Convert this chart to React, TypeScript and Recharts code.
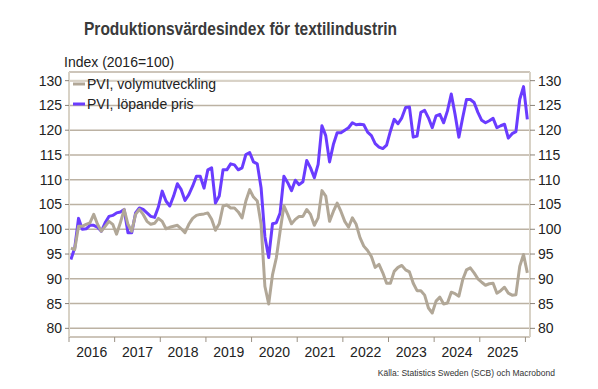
import React from "react";
import { LineChart, Line, XAxis, YAxis, CartesianGrid, ReferenceLine } from "recharts";

const yearLabels = ["2016", "2017", "2018", "2019", "2020", "2021", "2022", "2023", "2024", "2025", ""];
const yearTicks = [0, 12, 24, 36, 48, 60, 72, 84, 96, 108, 120];
const yTicks = [80, 85, 90, 95, 100, 105, 110, 115, 120, 125, 130];

// PVI, volymutveckling (monthly, Jan 2016 ->)
const volume = [
  96.2, 95.9, 100.6, 100.6, 101, 101.3, 103, 101, 99.6, 100.6,
  101.6, 101, 99, 101.3, 104, 101, 99.6, 103, 104, 103,
  101.6, 101, 101.2, 102.2, 101.6, 100.1, 100.4, 100.6, 100.8, 100.1,
  99.3, 101, 102.2, 102.8, 103, 103.1, 103.3, 102, 99.8, 101.1,
  104.7, 104.9, 104.3, 104.3, 103.5, 102.3, 105.7, 108, 106.5, 105.7,
  101, 88.5, 84.9, 90.8, 94.2, 99.6, 104.7, 103, 101.1, 102,
  102.6, 102.6, 104, 103, 100.8, 102.3, 107.8, 106.7, 101.6, 103.6,
  105.3, 103.6, 101.6, 100.4, 102.3, 101, 98.3, 96.6, 95.7, 94.5,
  92.3, 92.9, 91.2, 89.1, 89.1, 91.5, 92.3, 92.7, 91.8, 91.4,
  89.1, 87.6, 87.6, 86.7, 84.1, 83.1, 85.5, 86.3, 84.9, 85.1,
  87.3, 87, 86.5, 89.8, 91.8, 92.2, 91.2, 90, 89.3, 88.7,
  89, 89.1, 87.1, 87.6, 88.3, 87.1, 86.7, 86.8, 92.5, 94.9,
  91.2,
];

// PVI, löpande pris
const price = [
  93.9, 96.2, 102.2, 100, 100.1, 100.8, 100.8, 100.4, 99.6, 101.3,
  102.6, 102.8, 103.3, 103.5, 104, 99.3, 99.3, 103.3, 104.3, 104,
  103.3, 102.6, 102.4, 104.5, 107.7, 105.7, 104.7, 106.7, 109.2, 108,
  105.8, 107, 108.7, 110.7, 110.7, 108.3, 112, 112.4, 105.3, 106.7,
  112, 112, 113.2, 113, 112, 112.4, 115.1, 115.5, 113.6, 113.2,
  108.4, 98.5, 94.3, 101.1, 101.3, 103.3, 110.7, 109.4, 107.8, 109.9,
  109, 109.6, 113.9, 112.4, 110.4, 113.1, 120.9, 118.9, 113.6, 117.1,
  119.5, 119.5, 120, 120.5, 121.5, 121.1, 121.2, 121.1, 119.6, 118.9,
  117.3, 116.6, 116.3, 117, 119.8, 122.2, 121.3, 122.5, 124.6, 124.7,
  118.6, 118.8, 123.6, 124, 122.5, 120.5, 122.9, 123.2, 121.5, 123.9,
  127.3, 123.2, 118.6, 122.5, 126.2, 126.2, 125.6, 123.6, 122, 121.5,
  121.9, 122.4, 120.5, 120.9, 121.2, 118.4, 119.3, 119.7, 126.2, 128.8,
  122.2,
];

const data = volume.map((v, i) => ({ t: i + 0.5, volume: v, price: price[i] }));

const W = 598;
const H = 389;
const LEFT = 69;
const RIGHT = 68;
const TOP = 72;
const BOTTOM = 52;
const X_MAX = 121.2;
const plotW = W - LEFT - RIGHT;
const halfYear = (6 * plotW) / X_MAX;

const FONT = "'Liberation Sans', Arial, sans-serif";
const GRAY = "#b1a797";
const PURPLE = "#6a3cff";
const AXIS = "#d8d2c6";
const GRID = "#bcb2a3";
const TEXT = "#222";

const XTick = (props: any) => {
  const { x, index } = props;
  const label = yearLabels[index];
  if (!label) return null;
  return (
    <text x={x + halfYear} y={357} textAnchor="middle" fontSize={14} fontFamily={FONT} fill={TEXT}>
      {label}
    </text>
  );
};

export default function App() {
  return (
    <div style={{ position: "absolute", left: 0, top: 0, width: W, height: H, background: "#fff" }}>
      <LineChart
        width={W}
        height={H}
        data={data}
        margin={{ top: TOP, right: 0, bottom: 0, left: 0 }}
      >
        <CartesianGrid horizontal vertical={false} stroke={GRID} strokeWidth={1.5} yAxisId="left" />
        <XAxis
          dataKey="t"
          type="number"
          domain={[0, X_MAX]}
          ticks={yearTicks}
          height={BOTTOM}
          axisLine={false}
          tickLine={{ stroke: "#9a9184", strokeWidth: 1 }}
          tickSize={5}
          tick={<XTick />}
          interval={0}
        />
        <YAxis
          yAxisId="left"
          orientation="left"
          width={LEFT}
          domain={[78.25, 131.75]}
          ticks={yTicks}
          interval={0}
          axisLine={{ stroke: AXIS, strokeWidth: 2 }}
          tickLine={{ stroke: "#8a8278", strokeWidth: 1 }}
          tickSize={4}
          tickMargin={3}
          tick={{ fill: TEXT, fontSize: 14, fontFamily: FONT }}
        />
        <YAxis
          yAxisId="right"
          orientation="right"
          width={RIGHT}
          domain={[78.25, 131.75]}
          ticks={yTicks}
          interval={0}
          axisLine={{ stroke: AXIS, strokeWidth: 2 }}
          tickLine={{ stroke: "#8a8278", strokeWidth: 1 }}
          tickSize={5}
          tickMargin={3}
          tick={{ fill: TEXT, fontSize: 14, fontFamily: FONT, textAnchor: "start" }}
        />
        <ReferenceLine yAxisId="left" y={130} stroke={AXIS} strokeWidth={2} />
        <Line
          yAxisId="right"
          type="linear"
          dataKey="price"
          stroke={PURPLE}
          strokeWidth={3}
          dot={false}
          isAnimationActive={false}
          strokeLinejoin="round"
        />
        <Line
          yAxisId="left"
          type="linear"
          dataKey="volume"
          stroke={GRAY}
          strokeWidth={3}
          dot={false}
          isAnimationActive={false}
          strokeLinejoin="round"
        />
      </LineChart>
      <svg
        width={W}
        height={H}
        style={{ position: "absolute", left: 0, top: 0, pointerEvents: "none" }}
      >
        <text
          x={84}
          y={35}
          fontSize={18}
          fontWeight="bold"
          fontFamily={FONT}
          fill="#3a3a3a"
          textLength={313}
          lengthAdjust="spacingAndGlyphs"
        >
          Produktionsvärdesindex för textilindustrin
        </text>
        <text x={64} y={67} fontSize={14} fontFamily={FONT} fill={TEXT}>
          Index (2016=100)
        </text>
        <line x1={73} x2={85} y1={84} y2={84} stroke={GRAY} strokeWidth={3} />
        <text x={87} y={89} fontSize={14} fontFamily={FONT} fill={TEXT}>
          PVI, volymutveckling
        </text>
        <line x1={73} x2={85} y1={104} y2={104} stroke={PURPLE} strokeWidth={3} />
        <text x={87} y={109} fontSize={14} fontFamily={FONT} fill={TEXT}>
          PVI, löpande pris
        </text>
        <text x={555} y={376} fontSize={8.5} fontFamily={FONT} fill="#333" textAnchor="end">
          Källa: Statistics Sweden (SCB) och Macrobond
        </text>
      </svg>
    </div>
  );
}
